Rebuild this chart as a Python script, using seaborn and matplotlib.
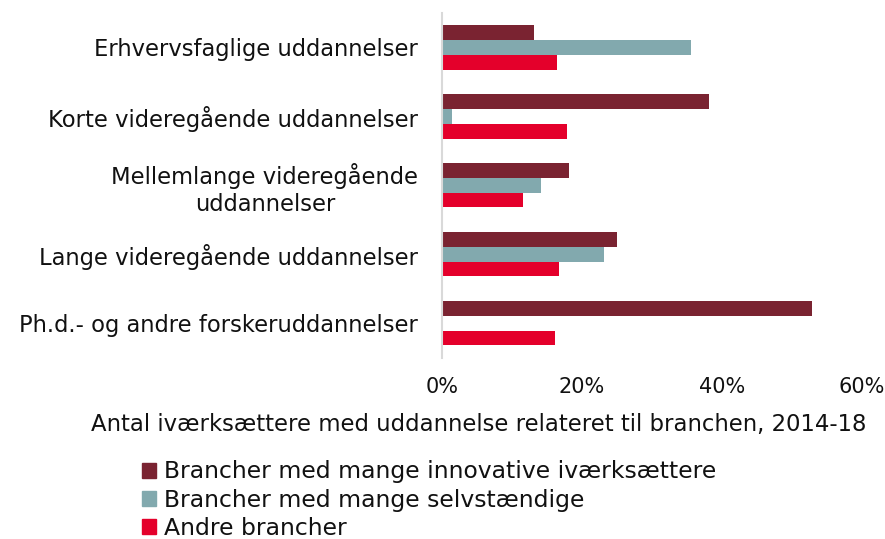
import matplotlib
matplotlib.use("Agg")
import matplotlib.pyplot as plt
import seaborn as sns
import pandas as pd
from matplotlib.ticker import PercentFormatter

# --- data ---
categories = [
    "Erhvervsfaglige uddannelser",
    "Korte videregående uddannelser",
    "Mellemlange videregående\nuddannelser",
    "Lange videregående uddannelser",
    "Ph.d.- og andre forskeruddannelser",
]
series = [
    "Brancher med mange innovative iværksættere",
    "Brancher med mange selvstændige",
    "Andre brancher",
]
innovative = [13.2, 38.1, 18.1, 25.0, 52.8]
selvstaendige = [35.6, 1.5, 14.1, 23.2, 0.0]
andre = [16.4, 17.9, 11.6, 16.7, 16.1]
colors = ["#7A2331", "#82A9AE", "#E4002B"]

rows = []
for name, vals in zip(series, [innovative, selvstaendige, andre]):
    for cat, v in zip(categories, vals):
        rows.append({"cat": cat, "serie": name, "value": v})
df = pd.DataFrame(rows)

sns.set_style("white")
plt.rcParams["font.family"] = ["DejaVu Sans"]

FS = 16.3
TXT = "#111111"

fig = plt.figure(figsize=(8.85, 5.39), dpi=100)
ax = fig.add_axes([0.4994, 0.336, 0.4746, 0.64])

sns.barplot(
    data=df, y="cat", x="value", hue="serie", hue_order=series,
    order=categories, palette=colors, orient="h", width=0.64,
    saturation=1, legend=False, linewidth=0, ax=ax,
)

ax.set_xlim(0, 60)
ax.set_xticks([0, 20, 40, 60])
ax.xaxis.set_major_formatter(PercentFormatter(decimals=0))
ax.tick_params(axis="both", length=0, labelsize=FS, colors=TXT)
ax.tick_params(axis="x", pad=14, labelsize=15)
ax.tick_params(axis="y", pad=17)
ax.set_ylabel("")
ax.set_xlabel("")
for tl in ax.get_yticklabels():
    tl.set_multialignment("center")

for s in ["top", "right", "bottom"]:
    ax.spines[s].set_visible(False)
ax.spines["left"].set_color("#D9D9D9")
ax.spines["left"].set_linewidth(1.5)

fig.text(0.541, 1 - 424 / 539, "Antal iværksættere med uddannelse relateret til branchen, 2014-18",
         ha="center", va="center", fontsize=16.4, color=TXT)

handles = [plt.Rectangle((0, 0), 1, 1, color=c) for c in colors]
fig.legend(handles, series, loc="upper left", bbox_to_anchor=(0.150, 1 - 451 / 539),
           frameon=False, fontsize=16.9, handlelength=0.6, handleheight=0.6,
           handletextpad=0.35, labelspacing=0.22, borderaxespad=0, labelcolor=TXT)

fig.savefig("out.png", dpi=100)
